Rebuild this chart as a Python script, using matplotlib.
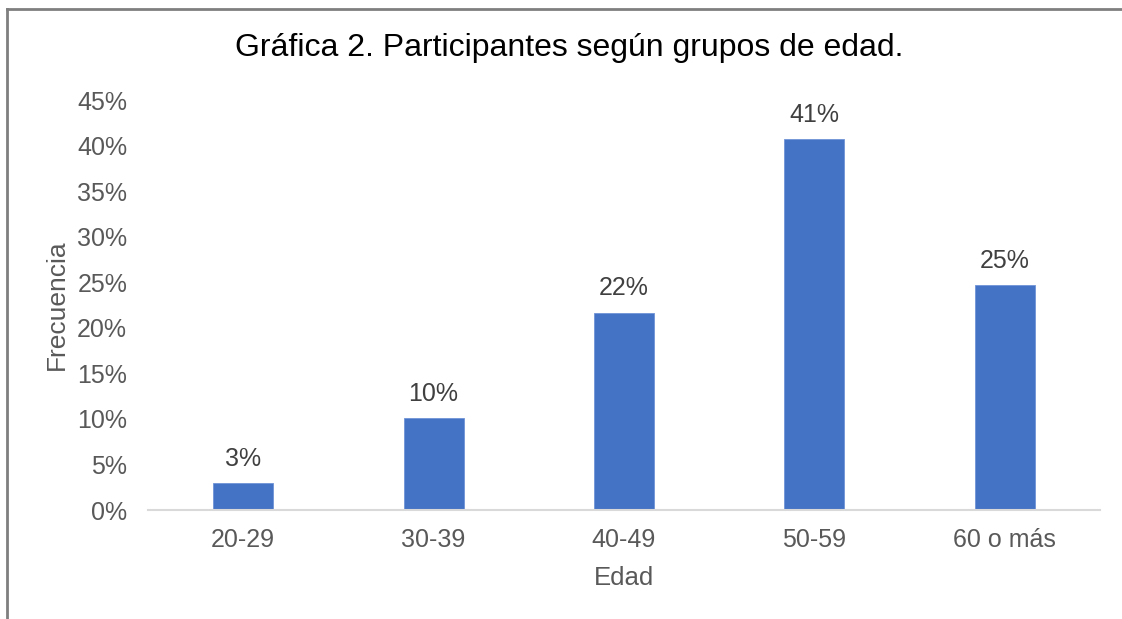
import matplotlib; matplotlib.use("Agg")
import matplotlib.pyplot as plt
from matplotlib.lines import Line2D
from matplotlib.ticker import PercentFormatter

plt.rcParams["font.family"] = ["Liberation Sans", "DejaVu Sans"]

categories = ["20-29", "30-39", "40-49", "50-59", "60 o más"]
values = [0.0296, 0.1006, 0.2166, 0.4070, 0.2466]
labels = ["3%", "10%", "22%", "41%", "25%"]
yticks = [0, 0.05, 0.10, 0.15, 0.20, 0.25, 0.30, 0.35, 0.40, 0.45]

W, H = 1122, 619
fig = plt.figure(figsize=(W/100, H/100), dpi=100)
ax = fig.add_axes([148/W, 1-510/H, (1100-148)/W, (510-100)/H])

x = range(len(categories))
bars = ax.bar(x, values, width=0.315, color="#4472C4", edgecolor="#6F93D6", linewidth=0.6, zorder=2)
for b, lab in zip(bars, labels):
    ax.annotate(lab, (b.get_x()+b.get_width()/2, b.get_height()), xytext=(0, 9),
                textcoords="offset points", ha="center", va="bottom", fontsize=18, color="#404040")

ax.set_xlim(-0.5, len(categories)-0.5)
ax.set_ylim(0, 0.45)
ax.set_yticks(yticks)
ax.yaxis.set_major_formatter(PercentFormatter(1.0, decimals=0))
ax.set_xticks(list(x))
ax.set_xticklabels(categories)
ax.tick_params(axis="both", length=0, labelsize=18, labelcolor="#595959")
ax.tick_params(axis="y", pad=15)
ax.tick_params(axis="x", pad=13)
for s in ["top", "right", "left"]:
    ax.spines[s].set_visible(False)
ax.spines["bottom"].set_color("#D9D9D9")
ax.spines["bottom"].set_linewidth(1.5)

ax.set_xlabel("Edad", fontsize=18.5, color="#595959", labelpad=10)
ax.set_ylabel("Frecuencia", fontsize=19, color="#595959", labelpad=6)
fig.text(569/W, 1-48/H, "Gráfica 2. Participantes según grupos de edad.", ha="center", va="center",
         fontsize=23, color="black")

# outer frame (only left and top visible in the source crop)
fig.add_artist(Line2D([7/W, 7/W], [0, 1-9/H], color="#7F7F7F", lw=2, transform=fig.transFigure))
fig.add_artist(Line2D([7/W, 1], [1-9/H, 1-9/H], color="#7F7F7F", lw=2, transform=fig.transFigure))

fig.savefig("out.png", dpi=100)
